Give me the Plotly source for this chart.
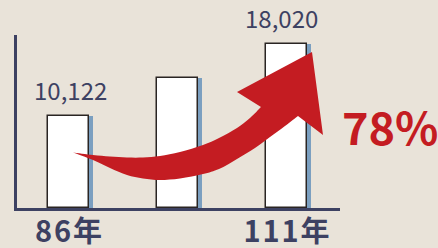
import plotly.graph_objects as go

# ---- data ----
categories = ["86年", "", "111年"]
values = [10122, 14300, 18020]
value_labels = ["10,122", "", "18,020"]
growth_label = "78%"

# ---- style ----
BG = "#e9e3d9"
NAVY = "#3d4162"
RED = "#c41c22"
SHADOW = "#7b9fc0"
FONT = "Noto Sans CJK TC"
label_xshift = [2, 0, -5]

W, H = 438, 248
ML, MR, MT, MB = 17, 98, 35, 40
PW, PH = W - ML - MR, H - MT - MB

xs = list(range(len(categories)))
bw = 0.376

fig = go.Figure()
# shadow bars
fig.add_trace(go.Bar(x=xs, y=values, width=bw, offset=-bw / 2 + 0.033,
                     marker=dict(color=SHADOW, line=dict(width=0)),
                     hoverinfo="skip", showlegend=False))
# main bars
fig.add_trace(go.Bar(x=xs, y=values, width=bw, offset=-bw / 2,
                     marker=dict(color="white", line=dict(color="#2a2523", width=1.5)),
                     showlegend=False))

# value labels
for x, v, t, dx in zip(xs, values, value_labels, label_xshift):
    if t:
        fig.add_annotation(x=x, y=v, text=t, showarrow=False, yanchor="bottom",
                           xanchor="center", yshift=7, xshift=dx,
                           font=dict(family=FONT, size=24, color=NAVY))

fig.add_annotation(x=(389.5 - ML) / PW, y=(MT + PH - 125) / PH, xref="paper", yref="paper",
                   xanchor="center", yanchor="middle",
                   text="<b>%s</b>" % growth_label, showarrow=False,
                   font=dict(family=FONT, size=45, color=RED))


# ---- decorative curved arrow (pixel outline -> paper coords) ----
def P(px, py):
    return ((px - ML) / PW, (MT + PH - py) / PH)


def smooth(pts):
    # Catmull-Rom -> cubic bezier segments
    out = []
    for i in range(len(pts) - 1):
        p0 = pts[i - 1] if i > 0 else pts[i]
        p1, p2 = pts[i], pts[i + 1]
        p3 = pts[i + 2] if i + 2 < len(pts) else p2
        c1 = (p1[0] + (p2[0] - p0[0]) / 6, p1[1] + (p2[1] - p0[1]) / 6)
        c2 = (p2[0] - (p3[0] - p1[0]) / 6, p2[1] - (p3[1] - p1[1]) / 6)
        out.append((c1, c2, p2))
    return out


top_edge = [(73, 152.5), (93, 155), (110, 156.5), (127, 157.5), (143, 157.5), (160, 156),
            (180, 152), (203, 145), (219, 138), (237, 128), (250, 118), (261, 107)]
head = [(237, 92), (312, 52), (323, 135), (298, 116)]
bottom_edge = [(298, 116), (285, 126), (270, 137), (255, 148), (237, 159), (219, 169),
               (203, 174), (180, 178.5), (160, 180), (143, 178.5), (127, 175), (110, 168),
               (93, 160), (73, 152.5)]


def fmt(p):
    x, y = P(*p)
    return "%.5f,%.5f" % (x, y)


path = "M " + fmt(top_edge[0])
for c1, c2, p in smooth(top_edge):
    path += " C " + fmt(c1) + " " + fmt(c2) + " " + fmt(p)
for p in head:
    path += " L " + fmt(p)
for c1, c2, p in smooth(bottom_edge):
    path += " C " + fmt(c1) + " " + fmt(c2) + " " + fmt(p)
path += " Z"

fig.add_shape(type="path", path=path, xref="paper", yref="paper",
              fillcolor=RED, line=dict(width=0), layer="above")

ticktext = ["\u200a".join(list(c)) for c in categories]

fig.update_layout(
    width=W, height=H,
    margin=dict(l=ML, r=MR, t=MT, b=MB, pad=0, autoexpand=False),
    paper_bgcolor=BG, plot_bgcolor=BG,
    barmode="overlay", bargap=0,
    showlegend=False,
    xaxis=dict(range=[-51.5 / 109, -51.5 / 109 + PW / 109], tickvals=xs, ticktext=ticktext,
               showline=True, linecolor=NAVY, linewidth=3, showgrid=False, zeroline=False,
               automargin=False, ticklabelstandoff=-4,
               ticks="", tickfont=dict(family=FONT, size=29, color=NAVY, weight="bold"),
               fixedrange=True),
    yaxis=dict(range=[0, PH * 110], showline=True, linecolor=NAVY, linewidth=3,
               automargin=False,
               showgrid=False, zeroline=False, showticklabels=False, ticks="", fixedrange=True),
)

fig.write_html(
    "out.html",
    config={"displayModeBar": False},
    post_script="document.body.style.margin='0';document.body.style.background='%s';" % BG,
)
